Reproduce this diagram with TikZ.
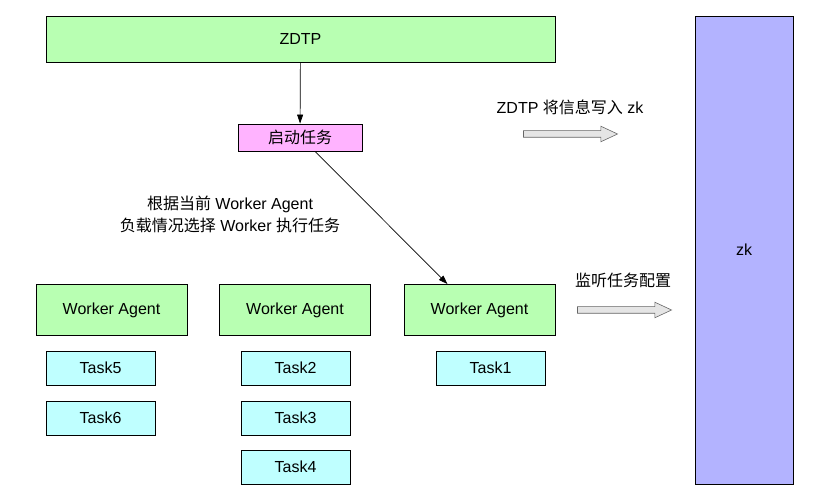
\documentclass[tikz,border=0pt]{standalone}
\usepackage{fontspec}
\setmainfont{Liberation Sans}
\newfontfamily\cjk{Noto Sans CJK SC}
\usetikzlibrary{arrows.meta,shapes.arrows}
\definecolor{agentgreen}{RGB}{184,255,178}
\definecolor{taskcyan}{RGB}{191,255,255}
\definecolor{startpink}{RGB}{255,179,255}
\definecolor{zkpurple}{RGB}{179,179,255}
\newcommand{\zh}[1]{{\cjk #1}}

\begin{document}
\begin{tikzpicture}[x=1pt, y=-1pt,
    font=\fontsize{16}{22}\selectfont,
    box/.style={draw=black, line width=0.8pt, inner sep=0pt},
    agent/.style={box, fill=agentgreen, minimum width=151pt, minimum height=51pt},
    task/.style={box, fill=taskcyan, minimum width=109pt, minimum height=34pt},
    fatarrow/.style={single arrow, draw=black!60, fill=black!10, line width=0.6pt,
        minimum height=94pt, inner sep=3pt, single arrow head extend=4.5pt,
        single arrow tip angle=50},
    link/.style={-{Triangle[length=9pt,width=6pt]}, line width=0.7pt}]
    \useasboundingbox (0,0) rectangle (817,502);

    % Top
    \node[box, fill=agentgreen, minimum width=509pt, minimum height=46pt] (zdtp) at (300.5,39) {ZDTP};
    \node[box, fill=startpink, minimum width=124pt, minimum height=27pt] (start) at (300,137.5) {\zh{启动任务}};
    \node[box, fill=zkpurple, minimum width=98pt, minimum height=468pt] (zk) at (744,250) {zk};

    % Agents and tasks
    \foreach \i/\x in {1/111.5, 2/295, 3/479.5} {
        \node[agent] (agent\i) at (\x,310) {Worker Agent};
    }
    \foreach \n/\x/\y in {5/100.5/368, 6/100.5/418, 2/295.5/368, 3/295.5/418, 4/295.5/467, 1/490.5/368} {
        \node[task] (task\n) at (\x,\y) {Task\n};
    }

    % Links
    \draw[link] (zdtp) -- (start);
    \draw[link] ([xshift=15pt]start.south) -- ([xshift=-32pt]agent3.north);
    \node[align=center] (pickLabel) at (230,214) {\zh{根据当前} Worker Agent\\\zh{负载情况选择} Worker \zh{执行任务}};

    % To zk
    \node[fatarrow] (writeArrow) at (567,134) {};
    \node (writeLabel) at (570,107) {ZDTP \zh{将信息写入} zk};
    \node[fatarrow] (watchArrow) at (621,310) {};
    \node (watchLabel) at (623,280) {\zh{监听任务配置}};
\end{tikzpicture}
\end{document}
